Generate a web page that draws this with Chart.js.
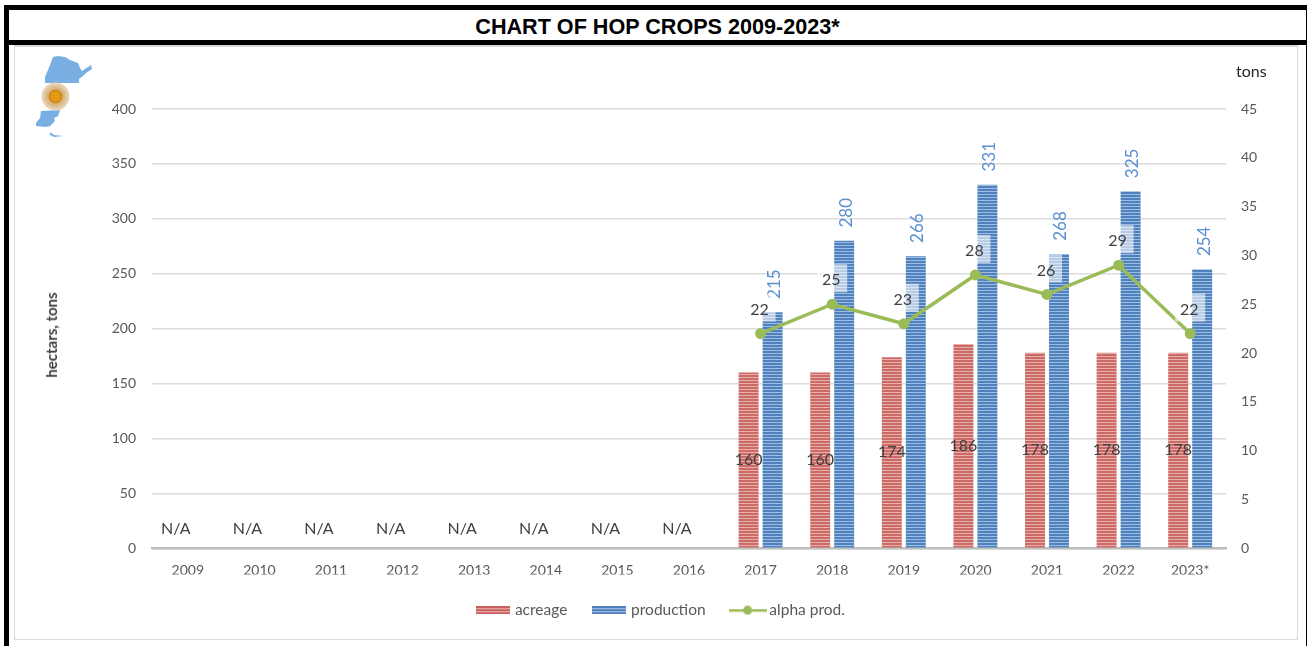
<!DOCTYPE html>
<html>
<head>
<meta charset="utf-8">
<title>Chart of hop crops</title>
<script src="https://cdn.jsdelivr.net/npm/chart.js@4"></script>
<style>
html, body { margin: 0; padding: 0; background: #fff; }
body { position: relative; width: 1307px; height: 646px; overflow: hidden; }
.bar { position: absolute; background: #000; }
#frame { position: absolute; left: 14px; top: 45px; width: 1282px; height: 592px; border: 1px solid #d9d9d9; border-top-width: 2px; }
#title { position: absolute; left: 9px; top: 10px; width: 1297px; height: 30px; text-align: center;
    font: bold 21.600px/34px "Liberation Sans", Arial, sans-serif; color: #000; }
#tons { position: absolute; left: 1236px; top: 61px; font: 16px Lato, sans-serif; color: #262626; }
#ytitle { position: absolute; left: 51px; top: 335px; white-space: nowrap; transform: translate(-50%, -50%) rotate(-90deg);
    font: bold 15px Lato, sans-serif; color: #404040; }
#map { position: absolute; left: 30px; top: 50px; }
canvas { position: absolute; left: 0; top: 0; }
</style>
</head>
<body>
<div class="bar" style="left:4px;top:5px;width:1303px;height:5px"></div>
<div class="bar" style="left:4px;top:40px;width:1303px;height:5px"></div>
<div class="bar" style="left:4px;top:5px;width:5px;height:641px"></div>
<div class="bar" style="left:1306px;top:5px;width:1px;height:641px"></div>
<div id="frame"></div>
<div id="title">CHART OF HOP CROPS 2009-2023*</div>
<canvas id="chart" width="1307" height="646"></canvas>
<div id="tons">tons</div>
<div id="ytitle">hectars, tons</div>
<svg id="map" width="70" height="95" viewBox="30 50 70 95">
    <defs>
        <radialGradient id="sun">
            <stop offset="0" stop-color="#e8a317"/>
            <stop offset="0.42" stop-color="#dd9a1c"/>
            <stop offset="0.55" stop-color="#d9b27c"/>
            <stop offset="1" stop-color="#ead9c2"/>
        </radialGradient>
    </defs>
    <polygon fill="#78aee2" points="53,57 58,56 65,57 70,60 78,63 80,68 82,71 88,67 91,65 92,69 86,73 83,76 79,79 79,83 45,83 45,77 48,70 50,65"/>
    <polygon fill="#78aee2" points="41,111 60,110 58,116 54,118 55,121 50,126 46,127 36,126 36,123 40,118"/>
    <polygon fill="#78aee2" points="50,132 54,135 63,136 54,137 50,135"/>
    <circle cx="55.500" cy="96.500" r="14" fill="url(#sun)"/>
    <circle cx="55.500" cy="96.500" r="6" fill="#e39a12" stroke="#b9791a" stroke-width="1"/>
</svg>
<script>
const years = ['2009','2010','2011','2012','2013','2014','2015','2016','2017','2018','2019','2020','2021','2022','2023*'];
// 0 = no data for that year, the source prints N/A
const acreage = [0,0,0,0,0,0,0,0,160,160,174,186,178,178,178];
const production = [null,null,null,null,null,null,null,null,215,280,266,331,268,325,254];
const alphaProd = [null,null,null,null,null,null,null,null,22,25,23,28,26,29,22];
const leftTicks = [0,50,100,150,200,250,300,350,400];
const rightTicks = [0,5,10,15,20,25,30,35,40,45];

const grey = '#595959';
const green = '#9bbb59';

function stripes(dark, light) {
    let c = document.createElement('canvas');
    c.width = 1;
    c.height = 3;
    let ctx = c.getContext('2d');
    ctx.fillStyle = dark;
    ctx.fillRect(0, 0, 1, 3);
    ctx.fillStyle = light;
    ctx.fillRect(0, 2, 1, 1);
    return document.getElementById('chart').getContext('2d').createPattern(c, 'repeat');
}

//legend swatches are small canvases so the line keeps its dot
function swatch(fill) {
    let c = document.createElement('canvas');
    c.width = 34;
    c.height = 8;
    let ctx = c.getContext('2d');
    ctx.fillStyle = fill;
    ctx.fillRect(0, 0, 34, 8);
    return c;
}

function lineSwatch() {
    let c = document.createElement('canvas');
    c.width = 38;
    c.height = 10;
    let ctx = c.getContext('2d');
    ctx.fillStyle = green;
    ctx.fillRect(0, 4, 38, 2.500);
    ctx.beginPath();
    ctx.arc(19, 5, 4.500, 0, Math.PI*2);
    ctx.fill();
    return c;
}

const redFill = stripes('#cc6a66', '#e8aeac');
const blueFill = stripes('#4f81bd', '#9dbce2');
const swatches = [swatch(stripes('#c9605c', '#eab8b6')), swatch(stripes('#4f81bd', '#a9c4e6')), lineSwatch()];

const labelsPlugin = {
    id: 'valueLabels',
    afterDatasetsDraw(chart) {
        const ctx = chart.ctx;
        const lineMeta = chart.getDatasetMeta(0);
        const redMeta = chart.getDatasetMeta(1);
        const blueMeta = chart.getDatasetMeta(2);
        ctx.save();
        ctx.textAlign = 'center';
        ctx.textBaseline = 'middle';

        //production, rotated, above the bars
        ctx.fillStyle = '#5b8fd0';
        ctx.font = '17px Lato, sans-serif';
        production.forEach((v, i) => {
            if(v === null) return;
            let el = blueMeta.data[i];
            ctx.save();
            ctx.translate(el.x + 2, el.y - 28);
            ctx.rotate(-Math.PI/2);
            ctx.fillText(v, 0, 0);
            ctx.restore();
        });
        ctx.font = '16px Lato, sans-serif';

        //acreage, in the middle of the bars
        ctx.fillStyle = '#404040';
        acreage.forEach((v, i) => {
            let el = redMeta.data[i];
            if(v === 0) {
                ctx.fillText('N/A', el.x, el.y - 19);
            } else {
                ctx.fillText(v, el.x, (el.y + el.base)/2);
            }
        });

        //alpha prod, with the see-through box behind it
        alphaProd.forEach((v, i) => {
            if(v === null) return;
            let el = lineMeta.data[i];
            ctx.fillStyle = 'rgba(255,255,255,0.6)';
            ctx.fillRect(el.x - 15, el.y - 40, 30, 28);
            ctx.fillStyle = '#404040';
            ctx.fillText(v, el.x - 1, el.y - 24);
        });
        ctx.restore();
    }
};

new Chart(document.getElementById('chart'), {
    type: 'bar',
    data: {
        labels: years,
        datasets: [
            {
                type: 'line',
                label: 'alpha prod.',
                data: alphaProd,
                yAxisID: 'y2',
                borderColor: green,
                backgroundColor: green,
                borderWidth: 3.500,
                pointRadius: 5.500,
                pointBackgroundColor: green,
                pointBorderWidth: 0,
                tension: 0,
                order: 0
            },
            {
                label: 'acreage',
                data: acreage,
                backgroundColor: redFill,
                yAxisID: 'y',
                categoryPercentage: 0.67,
                barPercentage: 0.833,
                order: 1
            },
            {
                label: 'production',
                data: production,
                backgroundColor: blueFill,
                yAxisID: 'y',
                categoryPercentage: 0.67,
                barPercentage: 0.833,
                order: 2
            }
        ]
    },
    options: {
        responsive: false,
        animation: false,
        devicePixelRatio: 1,
        layout: { padding: { left: 28, right: 11, top: 109, bottom: 18 } },
        plugins: {
            title: { display: false },
            tooltip: { enabled: false },
            legend: {
                position: 'bottom',
                labels: {
                    usePointStyle: true,
                    pointStyleWidth: 28,
                    padding: 28,
                    color: grey,
                    font: { family: 'Lato, sans-serif', size: 15.500 },
                    generateLabels(chart) {
                        return ['acreage', 'production', 'alpha prod.'].map((t, i) => ({
                            text: t,
                            pointStyle: swatches[i],
                            fontColor: grey,
                            lineWidth: 0,
                            datasetIndex: [1, 2, 0][i]
                        }));
                    }
                }
            }
        },
        scales: {
            x: {
                grid: { display: false, drawTicks: false },
                border: { color: '#bfbfbf', width: 2.500 },
                ticks: { color: grey, padding: 14, maxRotation: 0, autoSkip: false, font: { family: 'Lato, sans-serif', size: 14 } },
                afterFit(s) { s.height = 26.250; }
            },
            y: {
                position: 'left',
                min: 0,
                max: 400,
                afterBuildTicks(s) { s.ticks = leftTicks.map(v => ({ value: v })); },
                grid: { color: '#dcdcdc', drawTicks: false, lineWidth: 1.500 },
                border: { display: false },
                ticks: { color: grey, padding: 16, font: { family: 'Lato, sans-serif', size: 14 } },
                afterFit(s) { s.width = 124; }
            },
            y2: {
                position: 'right',
                min: 0,
                max: 45,
                afterBuildTicks(s) { s.ticks = rightTicks.map(v => ({ value: v })); },
                grid: { display: false, drawTicks: false },
                border: { display: false },
                ticks: { color: grey, padding: 15, font: { family: 'Lato, sans-serif', size: 14 } },
                afterFit(s) { s.width = 70; }
            }
        }
    },
    plugins: [labelsPlugin]
});
</script>
</body>
</html>
